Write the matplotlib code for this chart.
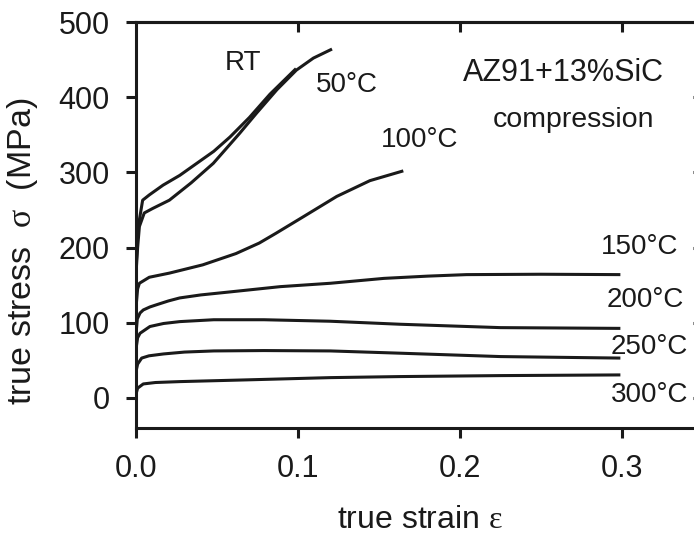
import matplotlib
matplotlib.use('Agg')
import matplotlib.pyplot as plt

plt.rcParams['font.family'] = ['Liberation Sans', 'DejaVu Sans']
plt.rcParams['mathtext.fontset'] = 'custom'
plt.rcParams['mathtext.rm'] = 'Liberation Serif'

# stress-strain curves (strain, MPa)
rt_eps = [0.0, 0.001, 0.0021, 0.0041, 0.0082, 0.0167, 0.027, 0.0375, 0.048, 0.058, 0.070, 0.0827, 0.0988]
rt_sig = [170, 215, 237, 263, 270, 283, 296, 312, 328, 347, 373, 404, 438]

c50_eps = [0.0, 0.001, 0.0021, 0.0051, 0.0103, 0.0206, 0.034, 0.0477, 0.064, 0.0745, 0.087, 0.099, 0.1095, 0.121]
c50_sig = [165, 200, 228, 246, 252, 263, 286, 312, 352, 379, 410, 436, 452, 464]

c100_eps = [0.0, 0.001, 0.0021, 0.0082, 0.0206, 0.0412, 0.0617, 0.0761, 0.0864, 0.1033, 0.1239, 0.1444, 0.165]
c100_sig = [120, 145, 152.5, 160.5, 166, 177, 192, 206, 219, 241, 268, 289, 302]

c150_eps = [0.0, 0.0008, 0.0025, 0.0045, 0.0086, 0.0128, 0.02, 0.027, 0.04, 0.058, 0.089, 0.12, 0.153, 0.18, 0.204, 0.25, 0.299]
c150_sig = [85, 105, 113, 117, 121, 124, 129, 133, 137, 141, 148, 152.5, 159, 162, 164, 164.5, 164]

c200_eps = [0.0, 0.001, 0.0025, 0.0086, 0.017, 0.027, 0.048, 0.079, 0.12, 0.163, 0.225, 0.299]
c200_sig = [65, 80, 86, 95, 99, 101.5, 104, 104, 102, 98, 93.5, 92.5]

c250_eps = [0.0, 0.001, 0.0035, 0.008, 0.017, 0.03, 0.048, 0.079, 0.12, 0.163, 0.225, 0.299]
c250_sig = [35, 45, 53, 56, 58.5, 61, 62.5, 63, 62.5, 59.5, 55, 53]

c300_eps = [0.0, 0.001, 0.0045, 0.012, 0.027, 0.068, 0.12, 0.163, 0.225, 0.299]
c300_sig = [5, 13, 18.6, 20.5, 21.7, 24, 27, 28.4, 29.7, 30.6]

xticks = [0.0, 0.1, 0.2, 0.3]
xticklabels = ['0.0', '0.1', '0.2', '0.3']
yticks = [0, 100, 200, 300, 400, 500]

curves = [(rt_eps, rt_sig), (c50_eps, c50_sig), (c100_eps, c100_sig), (c150_eps, c150_sig),
          (c200_eps, c200_sig), (c250_eps, c250_sig), (c300_eps, c300_sig)]

fig = plt.figure(figsize=(6.94, 5.43), dpi=100)
ax = fig.add_axes([136 / 694, 115 / 543, 567 / 694, 406 / 543])

for eps, sig in curves:
    ax.plot(eps, sig, color='#1a1a1a', lw=2.2, solid_capstyle='butt', solid_joinstyle='round')

ax.set_xlim(0, 0.35)
ax.set_ylim(-40, 500)

for sp in ax.spines.values():
    sp.set_linewidth(2.2)
    sp.set_color('#1a1a1a')

ax.set_xticks(xticks)
ax.set_xticklabels(xticklabels)
ax.set_yticks(yticks)
ax.tick_params(direction='out', length=7, width=2.2, labelsize=22, pad=12, colors='#1a1a1a',
               top=False, right=False)

# inward ticks on top and right
top = ax.secondary_xaxis('top')
top.set_xticks(xticks[1:])
top.tick_params(direction='in', length=7.5, width=2.2, labeltop=False, colors='#1a1a1a')
top.spines['top'].set_linewidth(2.2)
right = ax.secondary_yaxis('right')
right.set_yticks(yticks)
right.tick_params(direction='in', length=7.5, width=2.2, labelright=False, colors='#1a1a1a')
right.spines['right'].set_linewidth(2.2)

ax.set_xlabel('true strain $\\mathrm{ε}$', fontsize=23, color='#1a1a1a')
ax.xaxis.set_label_coords(0.5, -0.19)
ax.set_ylabel('true stress  $\\mathrm{σ}$  (MPa)', fontsize=24.5, color='#1a1a1a')
ax.yaxis.set_label_coords(-0.17, 0.436)

tc = '#1a1a1a'
ax.text(0.066, 445, 'RT', fontsize=20, ha='center', va='center', color=tc)
ax.text(0.130, 416, '50°C', fontsize=20, ha='center', va='center', color=tc)
ax.text(0.175, 343, '100°C', fontsize=20, ha='center', va='center', color=tc)
ax.text(0.264, 432, 'AZ91+13%SiC', fontsize=22, ha='center', va='center', color=tc)
ax.text(0.270, 370, 'compression', fontsize=20.5, ha='center', va='center', color=tc)
ax.text(0.335, 201, '150°C', fontsize=20, ha='right', va='center', color=tc)
ax.text(0.338, 130, '200°C', fontsize=20, ha='right', va='center', color=tc)
ax.text(0.341, 68, '250°C', fontsize=20, ha='right', va='center', color=tc)
ax.text(0.341, 4, '300°C', fontsize=20, ha='right', va='center', color=tc)

fig.savefig('out.png', dpi=100)
